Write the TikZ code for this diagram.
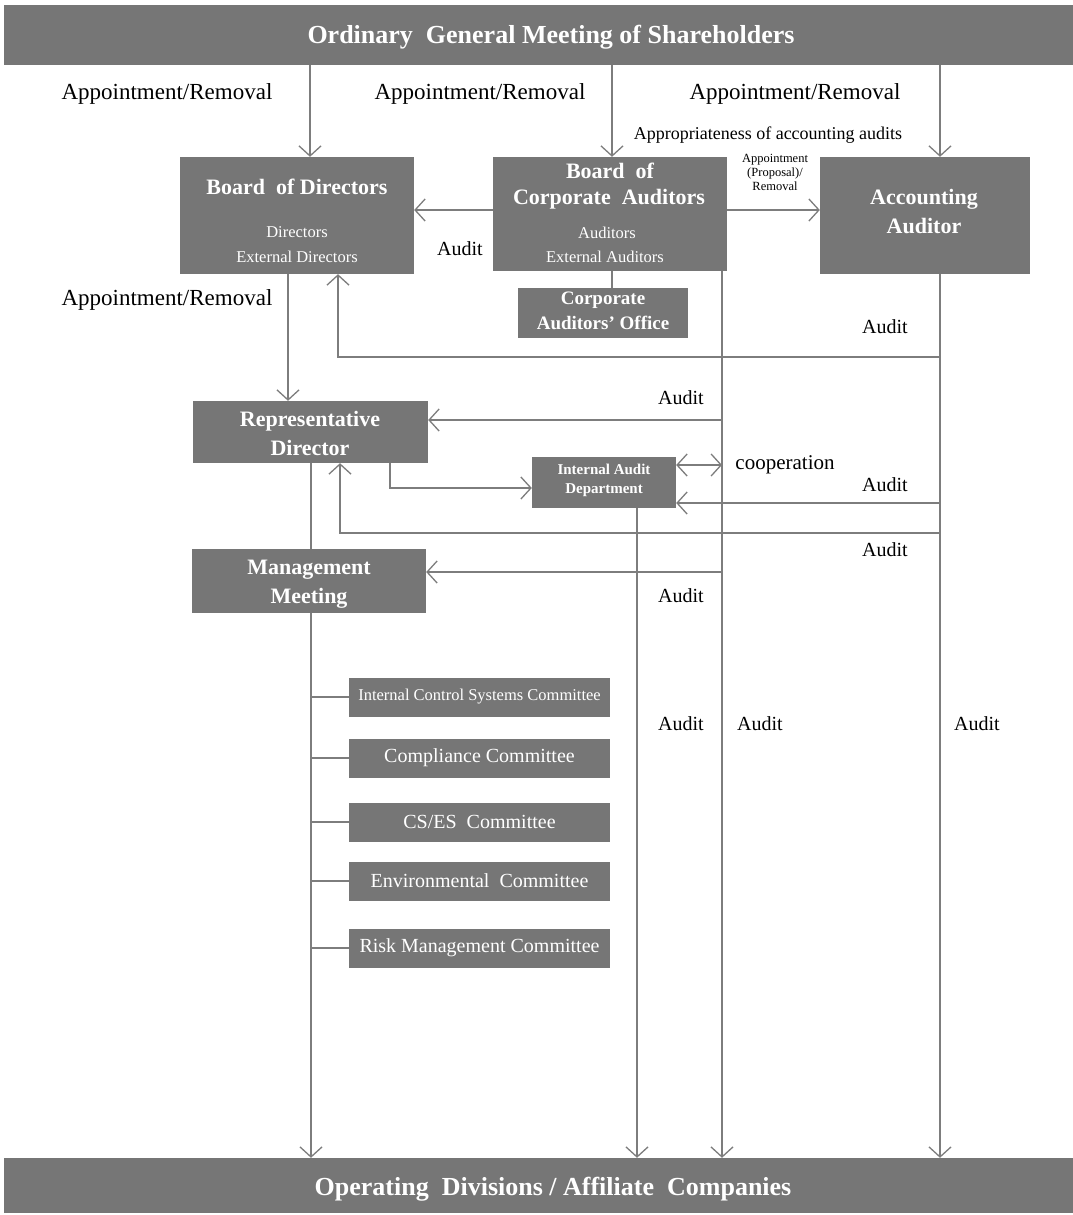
\documentclass[tikz,border=0pt]{standalone}
\usepackage{fontspec}
\setmainfont{Liberation Serif}
\usetikzlibrary{arrows.meta}
\definecolor{boxgray}{RGB}{118,118,118}
\definecolor{linegray}{RGB}{125,125,125}
\newcommand\fsz[2]{\fontsize{#1}{#2}\selectfont}
\tikzset{
  fillbox/.style={fill=boxgray, draw=none, inner sep=0pt, text=white, align=center},
  wtxt/.style={text=white, inner sep=0pt, align=center},
  btxt/.style={text=black, inner sep=0pt, align=center},
  conn/.style={draw=linegray, line width=1.3pt},
  arr/.style={conn, -{Straight Barb[length=10pt,width=22pt]}},
  darr/.style={conn, {Straight Barb[length=10pt,width=22pt]}-{Straight Barb[length=10pt,width=22pt]}},
  cbox/.style={fillbox, minimum width=261pt, minimum height=39pt, font=\fsz{20}{22}},
  ttl/.style={wtxt, font=\fsz{22}{26}\bfseries},
  sml/.style={wtxt, font=\fsz{16.5}{19}},
  lblA/.style={btxt, font=\fsz{23}{26}},
  lblB/.style={btxt, font=\fsz{20}{23}},
}
\begin{document}
\begin{tikzpicture}[x=1pt,y=-1pt]
\useasboundingbox[fill=white] (0,0) rectangle (1073,1215);

% bars
\node[fillbox, minimum width=1069pt, minimum height=60pt] (top) at (538.5,35) {};
\node[wtxt, font=\fsz{26}{30}\bfseries] (toptxt) at (551,37) {Ordinary\ \ General Meeting of Shareholders};
\node[fillbox, minimum width=1069pt, minimum height=55pt] (bot) at (538.5,1185.5) {};
\node[wtxt, font=\fsz{26}{30}\bfseries] (bottxt) at (553,1189) {Operating\ \ Divisions / Affiliate\ \ Companies};

% main boxes
\node[fillbox, minimum width=234pt, minimum height=117pt] (bod) at (297,215.5) {};
\node[ttl] (bod1) at (297,187) {Board\ \ of Directors};
\node[sml] (bod2) at (297,232) {Directors};
\node[sml] (bod3) at (297,257) {External Directors};

\node[fillbox, minimum width=234pt, minimum height=114pt] (bca) at (610,214) {};
\node[ttl] (bca1) at (610,171) {Board\ \ of};
\node[ttl] (bca2) at (609,199) {Corporate\ \ Auditors};
\node[sml] (bca3) at (607,233) {Auditors};
\node[sml] (bca4) at (605,257) {External Auditors};

\node[fillbox, minimum width=210pt, minimum height=117pt] (aa) at (925,215.5) {};
\node[ttl] (aa1) at (924,199) {Accounting};
\node[ttl] (aa2) at (924,226) {Auditor};

\node[fillbox, minimum width=170pt, minimum height=50pt] (office) at (603,313) {};
\node[wtxt, font=\fsz{19}{22}\bfseries] (office1) at (603,300) {Corporate};
\node[wtxt, font=\fsz{19}{22}\bfseries] (office2) at (603,323) {Auditors’ Office};

\node[fillbox, minimum width=235pt, minimum height=62pt] (rep) at (310.5,432) {};
\node[ttl] (rep1) at (310,421) {Representative};
\node[ttl] (rep2) at (310,448) {Director};

\node[fillbox, minimum width=144pt, minimum height=51pt] (iad) at (604,482.5) {};
\node[wtxt, font=\fsz{15}{18}\bfseries] (iad1) at (604,469) {Internal Audit};
\node[wtxt, font=\fsz{15}{18}\bfseries] (iad2) at (604,490) {Department};

\node[fillbox, minimum width=234pt, minimum height=64pt] (mm) at (309,581) {};
\node[ttl] (mm1) at (309,570) {Management};
\node[ttl] (mm2) at (309,598) {Meeting};

% committees
\node[cbox, font=\fsz{16.5}{19}] (c1) at (479.5,697) {Internal Control Systems Committee};
\node[cbox] (c2) at (479.5,758) {Compliance Committee};
\node[cbox] (c3) at (479.5,822) {CS/ES\ \ Committee};
\node[cbox] (c4) at (479.5,881) {Environmental\ \ Committee};
\node[cbox] (c5) at (479.5,948) {Risk Management Committee};

% labels
\node[lblA] (l1) at (167,94) {Appointment/Removal};
\node[lblA] (l2) at (480,94) {Appointment/Removal};
\node[lblA] (l3) at (795,94) {Appointment/Removal};
\node[lblA] (l4) at (167,300) {Appointment/Removal};
\node[btxt, font=\fsz{18}{20}] (l5) at (768,135) {Appropriateness of accounting audits};
\node[btxt, font=\fsz{12.5}{14}] (l6) at (775,172) {Appointment\\(Proposal)/\\Removal};
\node[lblB] (a1) at (460,249) {Audit};
\node[lblB] (a2) at (885,327) {Audit};
\node[lblB] (a3) at (681,398) {Audit};
\node[lblB] (a4) at (885,485) {Audit};
\node[lblB] (a5) at (885,550) {Audit};
\node[lblB] (a6) at (681,596) {Audit};
\node[lblB] (a7) at (681,724) {Audit};
\node[lblB] (a8) at (760,724) {Audit};
\node[lblB] (a9) at (977,724) {Audit};
\node[lblB, font=\fsz{21}{24}] (coop) at (785,465) {cooperation};

% coordinates for connector routing
\coordinate (xa) at (310,0);
\coordinate (xc) at (612,0);
\coordinate (xd) at (940,0);
\coordinate (xv) at (722,0);
\coordinate (xbd) at (288,0);
\coordinate (xbu) at (338,0);
\coordinate (xru) at (340,0);
\coordinate (xr2) at (390,0);
\coordinate (xm) at (311,0);
\coordinate (xi) at (637,0);
\coordinate (yb) at (0,210);
\coordinate (y1) at (0,357);
\coordinate (yrep) at (0,420);
\coordinate (yco) at (0,465);
\coordinate (yir) at (0,488);
\coordinate (yiad) at (0,503);
\coordinate (y2) at (0,533);
\coordinate (ymm) at (0,572);

% connectors
\draw[arr] (top.south -| xa) -- (bod.north -| xa);
\draw[arr] (top.south -| xc) -- (bca.north -| xc);
\draw[arr] (top.south -| xd) -- (aa.north -| xd);
\draw[arr] (bca.west |- yb) -- (bod.east |- yb);
\draw[arr] (bca.east |- yb) -- (aa.west |- yb);
\draw[conn] (bca.south -| xc) -- (office.north -| xc);
\draw[arr] (bca.south -| xv) -- (bot.north -| xv);
\draw[arr] (xv |- yrep) -- (rep.east |- yrep);
\draw[arr] (xv |- ymm) -- (mm.east |- ymm);
\draw[arr] (aa.south -| xd) -- (bot.north -| xd);
\draw[arr] (xd |- y1) -- (xbu |- y1) -- (bod.south -| xbu);
\draw[arr] (xd |- yiad) -- (iad.east |- yiad);
\draw[arr] (xd |- y2) -- (xru |- y2) -- (rep.south -| xru);
\draw[arr] (bod.south -| xbd) -- (rep.north -| xbd);
\draw[arr] (rep.south -| xr2) -- (xr2 |- yir) -- (iad.west |- yir);
\draw[darr] (iad.east |- yco) -- (xv |- yco);
\draw[conn] (rep.south -| xm) -- (mm.north -| xm);
\draw[arr] (mm.south -| xm) -- (bot.north -| xm);
\foreach \c in {c1,c2,c3,c4,c5} { \draw[conn] (xm |- \c.west) -- (\c.west); }
\draw[arr] (iad.south -| xi) -- (bot.north -| xi);
\end{tikzpicture}
\end{document}
